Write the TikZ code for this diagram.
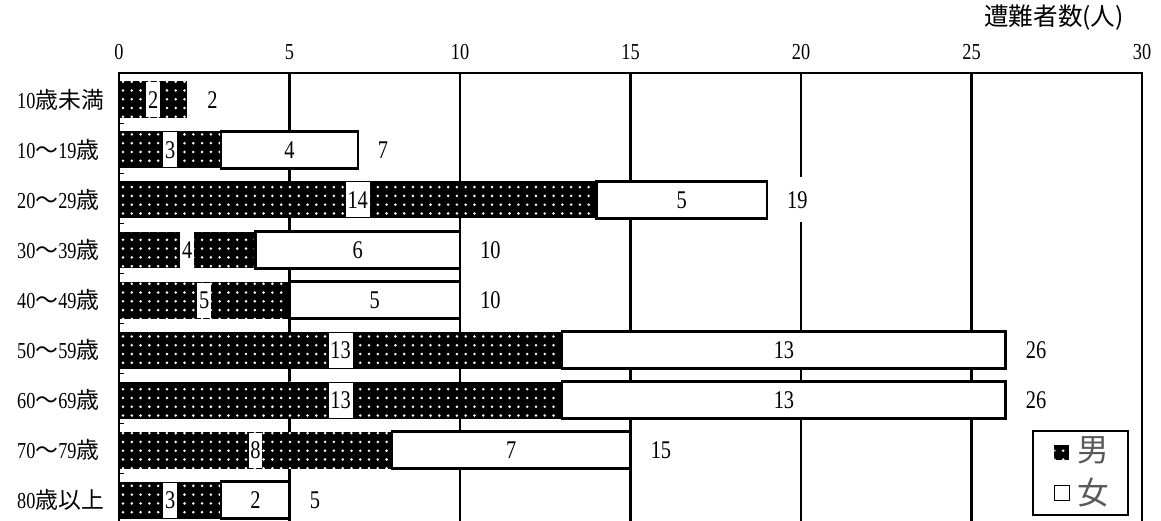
\documentclass[tikz,border=0pt]{standalone}
\usepackage{fontspec}
\setmainfont[FakeStretch=0.8]{Liberation Serif}
\newfontfamily\jp{Noto Sans CJK JP}
\usetikzlibrary{patterns.meta}
\tikzset{
	male/.style={fill=black, postaction={pattern={Dots[distance=5pt, radius=0.8pt]}, pattern color=white}},
	female/.style={draw=black, line width=1.3pt, fill=white},
	val/.style={font=\fontsize{14.5}{14.5}\selectfont},
	mval/.style={val, fill=white, inner xsep=1pt, inner ysep=0pt, minimum height=0.7cm},
	sval/.style={val, anchor=west, fill=white, inner xsep=2pt, inner ysep=0pt, minimum height=0.9cm},
	lab/.style={font=\fontsize{13}{13}\selectfont}
}
\begin{document}
\begin{tikzpicture}[x=0.682cm, y=-1cm, line width=1.6pt]
		\useasboundingbox (-3.49,-2.0) rectangle (30.557,8.42);
		%axis frame
		\draw (0,8.42) -- (0,-0.54) -- (30,-0.54) -- (30,8.42);
		\node[font=\jp\fontsize{14}{14}\selectfont] (title) at (27.42,-1.64) {遭難者数(人)};
		
		\foreach \x in {0, 5, ..., 30}{
			\draw (\x,-0.54) -- (\x,8.42);
			\node[lab] (t\x) at (\x,-0.96) {\x};
		}
		\foreach \k in {0, ..., 7}{
			\draw[line width=1pt] (0,\k+0.47) -- (0.15,\k+0.47);
		}
		
		%bars
		\foreach \name/\m/\f [count=\i from 0] in {
			{10{\jp 歳未満}}/2/0, {10{\jp 〜}19{\jp 歳}}/3/4, {20{\jp 〜}29{\jp 歳}}/14/5,
			{30{\jp 〜}39{\jp 歳}}/4/6, {40{\jp 〜}49{\jp 歳}}/5/5, {50{\jp 〜}59{\jp 歳}}/13/13,
			{60{\jp 〜}69{\jp 歳}}/13/13, {70{\jp 〜}79{\jp 歳}}/8/7, {80{\jp 歳以上}}/3/2}{
			\pgfmathtruncatemacro{\t}{\m+\f}
			\node[lab, anchor=west] (r\i) at (-3.2,\i) {\name};
			\fill[male] (0,\i-0.37) rectangle (\m,\i+0.37);
			\node[mval] (m\i) at (\m/2,\i) {\m};
			\ifnum\f>0
				\draw[female] (\m,\i-0.37) rectangle (\m+\f,\i+0.37);
				\node[val] (f\i) at (\m+\f/2,\i) {\f};
			\fi
			\node[sval] (s\i) at (\t+0.45,\i) {\t};
		}
		
		%legend
		\node[draw, line width=1.3pt, fill=white, minimum width=1.9cm, minimum height=1.68cm] (legend) at (28.2,7.46) {};
		\node[male, minimum size=0.3cm, inner sep=0pt] (keym) at (27.65,7.04) {};
		\node[draw, line width=1pt, minimum size=0.3cm, inner sep=0pt] (keyf) at (27.65,7.86) {};
		\node[font=\jp\fontsize{18}{18}\selectfont, text=black!65] (keymt) at (28.56,7.0) {男};
		\node[font=\jp\fontsize{18}{18}\selectfont, text=black!65] (keyft) at (28.56,7.86) {女};
\end{tikzpicture}
\end{document}
